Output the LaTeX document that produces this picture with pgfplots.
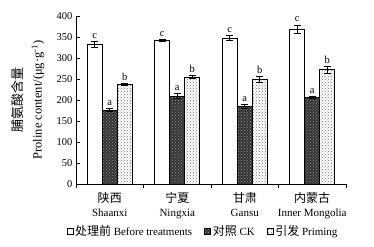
\documentclass[border=0pt]{standalone}
\usepackage{pgfplots}
\pgfplotsset{compat=1.18}
\usepackage{pgfplotstable}
\usepackage{fontspec}
\setmainfont{Liberation Serif}
\newfontfamily\cjk{Noto Sans CJK SC}
\usetikzlibrary{patterns}

\pgfplotstableread{
x y err lab
0 333 7 c
1 342 3 c
2 347 6 c
3 369 10 c
}\before
\pgfplotstableread{
x y err lab
0 176 4 a
1 209 6 a
2 185 4 a
3 206 3 a
}\ck
\pgfplotstableread{
x y err lab
0 237 2 b
1 255 4 b
2 249 8 b
3 272 9 b
}\priming

\newcommand{\cn}[1]{{\cjk\fontsize{12}{14}\selectfont #1}}

\begin{document}
\begin{tikzpicture}
\useasboundingbox (-76pt,-62pt) rectangle (298pt,184pt);
\begin{axis}[
  at={(0pt,0pt)}, anchor=south west,
  scale only axis, width=270pt, height=168pt,
  ymin=0, ymax=400, ytick={0,50,...,400},
  xmin=-0.5, xmax=3.5,
  xtick={-0.5,0.5,1.5,2.5,3.5},
  x tick label as interval,
  xticklabels={{\cn{陕西}\\Shaanxi},{\cn{宁夏}\\Ningxia},{\cn{甘肃}\\Gansu},{\cn{内蒙古}\\Inner Mongolia}},
  xticklabel style={align=center, font=\fontsize{11}{14}\selectfont, yshift=-1pt},
  yticklabel style={font=\fontsize{10.5}{12}\selectfont},
  /pgf/number format/assume math mode=true,
  axis x line*=bottom, axis y line*=left,
  axis line style={line width=0.6pt},
  tick align=inside, major tick length=4pt,
  tick style={line width=0.6pt, black},
  ybar=0pt, bar width=15pt,
  ylabel={{\cjk\fontsize{13}{19}\selectfont 脯氨酸含量}\\Proline content/(μg·g\textsuperscript{-1})},
  ylabel style={align=center, font=\fontsize{12.5}{19}\selectfont,
    at={(axis description cs:-0.104,0.5)}, anchor=south},
  legend style={at={(0.5,-0.28)}, anchor=center, xshift=-8pt, legend columns=3, draw=none,
    font=\fontsize{11}{13}\selectfont, inner sep=0pt,
    /tikz/every even column/.append style={column sep=10pt}},
  legend image code/.code={\draw[#1, line width=0.5pt] (0pt,-3pt) rectangle (6pt,3pt);},
  nodes near coords,
  point meta=explicit symbolic,
  visualization depends on={\thisrow{err} \as \err},
  nodes near coords style={font=\fontsize{10.5}{12}\selectfont, yshift={0.42*\err}, inner sep=2.5pt},
  error bars/y dir=both, error bars/y explicit,
  error bars/error mark options={rotate=90, mark size=3.5pt, line width=0.6pt, black},
  error bars/error bar style={line width=0.6pt, black},
]
\addplot[draw=black, line width=0.6pt, fill=white] table[x=x, y=y, y error=err, meta=lab] {\before};
\addlegendentry{\cn{处理前} Before treatments}
\addplot[draw=black, line width=0.6pt, fill=black!80, postaction={pattern=crosshatch dots, pattern color=white!60!black}] table[x=x, y=y, y error=err, meta=lab] {\ck};
\addlegendentry{\cn{对照} CK}
\addplot[draw=black, line width=0.6pt, fill=white, postaction={pattern=crosshatch dots, pattern color=black!55}] table[x=x, y=y, y error=err, meta=lab] {\priming};
\addlegendentry{\cn{引发} Priming}
\end{axis}
\end{tikzpicture}
\end{document}
